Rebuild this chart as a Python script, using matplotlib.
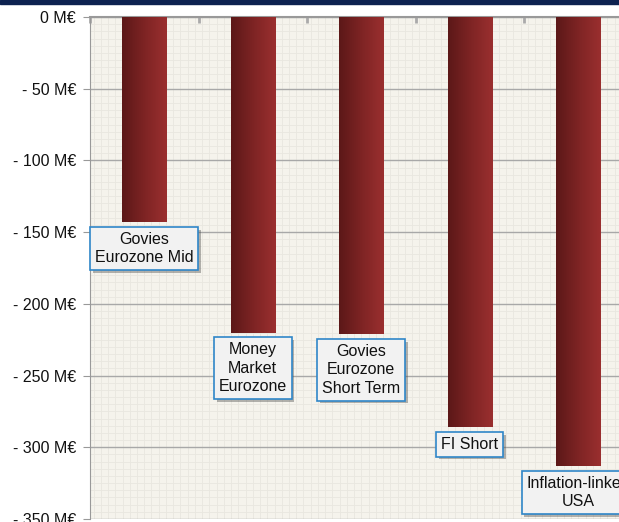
import numpy as np
import matplotlib.pyplot as plt
from matplotlib.ticker import MultipleLocator, FuncFormatter
import matplotlib.patheffects as pe

plt.rcParams['font.family'] = ['Liberation Sans', 'DejaVu Sans']

# net flows per category (M EUR)
categories = ['Govies\nEurozone Mid', 'Money\nMarket\nEurozone',
              'Govies\nEurozone\nShort Term', 'FI Short', 'Inflation-linked\nUSA']
flows = [-143, -220, -221, -286, -313]

fig = plt.figure(figsize=(6.19, 5.22), dpi=100)

# dark navy strip at the top
fig.patches.append(plt.Rectangle((0, 1 - 4 / 522), 1, 4 / 522, transform=fig.transFigure,
                                 color='#0d2250', zorder=5))

ax = fig.add_axes([90 / 619, 3 / 522, 1 - 90 / 619, (519 - 17) / 522])
ax.set_facecolor('#f5f3ec')

x = np.arange(len(categories))

# gradient bars: dark on the left, lighter red on the right
grad = np.linspace(0, 1, 64).reshape(1, -1)
cmap = plt.matplotlib.colors.LinearSegmentedColormap.from_list('bar', ['#5c1818', '#7e2424', '#9a2f2f'])
width = 0.41
bars = ax.bar(x, flows, width=width, color='none', zorder=3)
for b in bars:
    x0, y0 = b.get_x(), b.get_y()
    im = ax.imshow(grad, cmap=cmap, aspect='auto', zorder=3,
                   extent=[x0, x0 + b.get_width(), y0 + b.get_height(), y0])
    im.set_clip_path(b)

# labels below each bar end
for xi, v, name in zip(x, flows, categories):
    t = ax.annotate(name, (xi, v), xytext=(0, -7), textcoords='offset points',
                    ha='center', va='top', fontsize=11.5, color='#111111',
                    linespacing=1.3, zorder=6, annotation_clip=False,
                    bbox=dict(boxstyle='square,pad=0.3', fc='#f2f2f2', ec='#2f86c8', lw=1.2))
    t.get_bbox_patch().set_path_effects([pe.SimplePatchShadow(offset=(2, -2), alpha=0.4),
                                         pe.Normal()])

# grid
ax.yaxis.set_major_locator(MultipleLocator(50))
ax.yaxis.set_minor_locator(MultipleLocator(5))
ax.xaxis.set_minor_locator(MultipleLocator(0.0667))
ax.grid(which='minor', color='#e9e7df', lw=0.6, zorder=0)
ax.grid(which='major', axis='y', color='#a8a8a8', lw=1.0, zorder=1)
ax.set_axisbelow(True)

ax.yaxis.set_major_formatter(FuncFormatter(lambda v, p: '0 M€' if v == 0 else f'- {abs(v):.0f} M€'))
ax.tick_params(axis='y', which='major', length=5, color='#999999', labelsize=11.5, pad=5, labelcolor='#111111')
ax.tick_params(axis='y', which='minor', length=0)

ax.xaxis.tick_top()
ax.set_xticks(np.arange(-0.5, 4.4, 1.0))
ax.set_xticklabels([])
ax.tick_params(axis='x', which='major', direction='in', length=4, color='#aaaaaa', width=2)
ax.tick_params(axis='x', which='minor', length=0)

ax.set_xlim(-0.5, -0.5 + (619 - 90) / 108.5)
ax.set_ylim(-350, 0)

for s in ['right', 'bottom']:
    ax.spines[s].set_visible(False)
ax.spines['left'].set_color('#999999')
ax.spines['top'].set_color('#999999')
ax.spines['top'].set_linewidth(1.5)

fig.savefig('out.png', dpi=100)
